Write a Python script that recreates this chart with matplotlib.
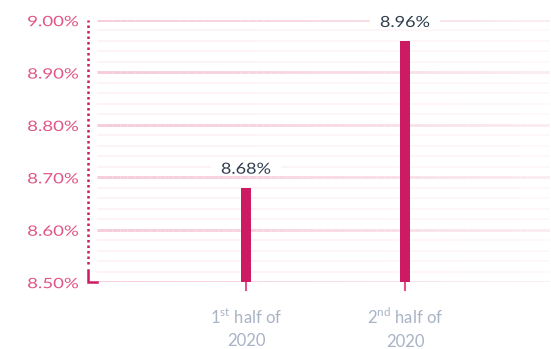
import numpy as np
import matplotlib
matplotlib.use("Agg")
import matplotlib.pyplot as plt
from matplotlib.collections import LineCollection
from matplotlib.lines import Line2D
from matplotlib.patches import Rectangle, PathPatch
from matplotlib.font_manager import FontProperties
from matplotlib.textpath import TextPath
from matplotlib.transforms import IdentityTransform, Affine2D

FAMILY = ['Lato', 'DejaVu Sans']
plt.rcParams['font.family'] = FAMILY

# Data
categories = ["1$^{\\mathregular{st}}$ half of\n2020", "2$^{\\mathregular{nd}}$ half of\n2020"]
values = [8.68, 8.96]
value_labels = ["8.68%", "8.96%"]
y_ticks = [8.50, 8.60, 8.70, 8.80, 8.90, 9.00]
y_tick_labels = ["8.50%", "8.60%", "8.70%", "8.80%", "8.90%", "9.00%"]
y_min, y_max = 8.50, 9.00

BAR = "#cc1a63"
TICK_PINK = "#e05587"
XLAB = "#a9b3c6"
VAL = "#2f3d4f"

W, H = 551, 349
fig = plt.figure(figsize=(W / 100, H / 100), dpi=100)
left, right, top, bottom = 97, 550, 20, 282
ax = fig.add_axes([left / W, 1 - bottom / H, (right - left) / W, (bottom - top) / H])
X0, X1 = -0.937, 1.912
ax.set_xlim(X0, X1)
ax.set_ylim(y_min, y_max)
for s in ax.spines.values():
    s.set_visible(False)
ax.set_xticks([])
ax.set_yticks([])

FP = FontProperties(family=FAMILY)


def wide_text(px, py, s, cap_px, color, xscale, ha="center", zorder=4):
    """Draw a wide-set label centred vertically on display pixel row py."""
    size = cap_px / 0.72
    tp = TextPath((0, 0), s, size=size, prop=FP)
    ext = tp.get_extents()
    w = ext.width * xscale
    xmin = ext.x0 * xscale
    if ha == "center":
        x0 = px - w / 2 - xmin
    elif ha == "right":
        x0 = px - w - xmin
    else:
        x0 = px - xmin
    tr = Affine2D().scale(xscale, 1).translate(x0, py - cap_px / 2)
    fig.patches.append(PathPatch(tr.transform_path(tp), transform=IdentityTransform(),
                                 facecolor=color, edgecolor="none", lw=0, zorder=zorder))


def fading_line(y, c0, c1, lw, n=60):
    xs = np.linspace(X0, X1, n + 1)
    segs = [[(xs[i], y), (xs[i + 1], y)] for i in range(n)]
    a = np.array(matplotlib.colors.to_rgb(c0))
    b = np.array(matplotlib.colors.to_rgb(c1))
    t = np.linspace(0, 1, n)[:, None] ** 1.3
    cols = a * (1 - t) + b * t
    ax.add_collection(LineCollection(segs, colors=cols, linewidths=lw, zorder=0.5))


# Faint minor grid every 0.02, stronger major grid every 0.10
for y in np.arange(y_min + 0.02, y_max, 0.02):
    if not np.isclose((y - y_min) / 0.1, round((y - y_min) / 0.1)):
        fading_line(y, "#fdf2f6", "#fef8fa", 1.4)
for y in y_ticks:
    fading_line(y, "#f6cad9", "#fbecf1", 2.0)

# Bars
x = np.arange(len(values))
bar_w = 0.063
ax.bar(x, [v - y_min for v in values], bottom=y_min, width=bar_w, color=BAR, zorder=3)

# Small ticks under the bars
for xi in x:
    ax.plot([xi, xi], [y_min, y_min - 0.017], color="#e0508a", lw=1.5,
            clip_on=False, zorder=3, solid_capstyle="butt")

# Value labels on a white patch above each bar
for xi, v, lab in zip(x, values, value_labels):
    px, py = ax.transData.transform((xi, v))
    py += 19.5
    fig.patches.append(Rectangle((px - 35, py - 7), 70, 14, transform=IdentityTransform(),
                                 facecolor="white", edgecolor="none", zorder=3.5))
    wide_text(px, py, lab, 11, VAL, 1.18)

# Category labels
for xi, lab in zip(x, categories):
    ax.text(xi, y_min - 0.048, lab, ha="center", va="top", fontsize=12, color=XLAB,
            linespacing=1.5, clip_on=False)

# Y tick labels
for y, lab in zip(y_ticks, y_tick_labels):
    px, py = ax.transData.transform((X0, y))
    wide_text(px - 19, py - 1, lab, 10.3, TICK_PINK, 1.3, ha="right")

# Dotted left axis with an L-shaped foot
xa = X0 - 9 / 159
ax.add_line(Line2D([xa, xa], [y_min + 0.035, y_max], color=BAR, lw=1.8,
                   linestyle=(0, (1, 1.2)), clip_on=False, zorder=3))
ax.add_line(Line2D([xa, xa, X0], [y_min + 0.022, y_min, y_min], color=BAR, lw=1.8,
                   clip_on=False, zorder=3, solid_joinstyle="miter"))

fig.savefig("out.png", dpi=100, facecolor="white")
